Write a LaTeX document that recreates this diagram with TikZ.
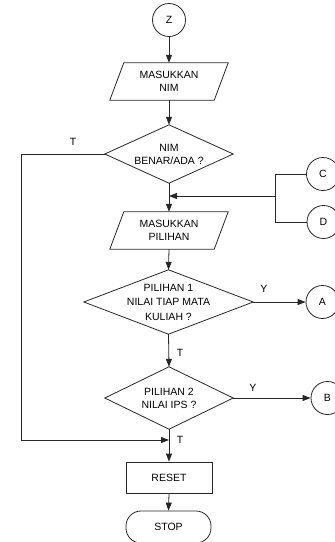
\documentclass[tikz,border=0pt]{standalone}
\usepackage{fontspec}
\setmainfont{Liberation Sans}
\usetikzlibrary{arrows.meta}
\begin{document}
\begin{tikzpicture}[x=1pt,y=-1pt,
  every node/.style={font=\fontsize{10.5}{13}\selectfont, align=center, inner sep=0pt},
  line/.style={line width=0.8pt, draw=black!85},
  arr/.style={line, -{Triangle[length=8pt,width=6pt]}},
  conn/.style={circle, draw=black!85, line width=0.8pt, minimum size=33pt},
  iobox/.style={minimum width=104pt, minimum height=37pt},
  dtext/.style={minimum width=128pt, minimum height=58pt},
  procbox/.style={rectangle, draw=black!85, line width=0.8pt, minimum width=86pt, minimum height=31pt},
  termbox/.style={rectangle, rounded corners=15pt, draw=black!85, line width=0.8pt, minimum width=85pt, minimum height=32pt},
  lbl/.style={font=\fontsize{10.5}{13}\selectfont}
]
\useasboundingbox (0,0) rectangle (335,542);

% connectors
\node[conn] (Z) at (169,20) {Z};
\node[conn] (C) at (323,174) {C};
\node[conn] (D) at (323.5,222) {D};
\node[conn] (A) at (322.5,302) {A};
\node[conn] (B) at (327.5,398) {B};

% input 1
\node[iobox] (in1) at (169,81.5) {MASUKKAN\\NIM};
\draw[line] ([xshift=7pt]in1.north west) -- ([xshift=7pt]in1.north east) -- ([xshift=-7pt]in1.south east) -- ([xshift=-7pt]in1.south west) -- cycle;

% decision 1
\node[dtext] (d1) at (169,154) {NIM\\BENAR/ADA ?};
\draw[line] (d1.north) -- (d1.east) -- (d1.south) -- (d1.west) -- cycle;

% input 2
\node[iobox] (in2) at (169,230.5) {MASUKKAN\\PILIHAN};
\draw[line] ([xshift=7pt]in2.north west) -- ([xshift=7pt]in2.north east) -- ([xshift=-7pt]in2.south east) -- ([xshift=-7pt]in2.south west) -- cycle;

% decision 2
\node[dtext, minimum width=169pt, minimum height=64pt, font=\fontsize{10.5}{14.5}\selectfont] (d2) at (168.5,302) {PILIHAN 1\\NILAI TIAP MATA\\KULIAH ?};
\draw[line] (d2.north) -- (d2.east) -- (d2.south) -- (d2.west) -- cycle;

% decision 3
\node[dtext, minimum height=62pt] (d3) at (169,398) {PILIHAN 2\\NILAI IPS ?};
\draw[line] (d3.north) -- (d3.east) -- (d3.south) -- (d3.west) -- cycle;

% reset and stop
\node[procbox] (reset) at (169,477.5) {RESET};
\node[termbox] (stop) at (168.5,527) {STOP};

% junction coordinates
\coordinate (jc) at (275,174);
\coordinate (jd) at (275,222);
\coordinate (jm) at (275,196);
\coordinate (jin) at (169,196);
\coordinate (lt) at (21,154);
\coordinate (lb) at (21,440);
\coordinate (lend) at (169,440);

% flow
\draw[arr] (Z) -- (in1.north);
\draw[arr] (in1.south) -- (d1.north);
\draw[arr] (d1.south) -- (in2.north);
\draw[line] (C.west) -- (jc) -- (jd) -- (D.west);
\draw[arr] (jm) -- (jin);
\draw[arr] (in2.south) -- (d2.north);
\draw[arr] (d2.east) -- (A.west);
\draw[arr] (d2.south) -- (d3.north);
\draw[arr] (d3.east) -- (B.west);
\draw[arr] (d3.south) -- (reset.north);
\draw[arr] (reset.south) -- (stop.north);
\draw[arr] (d1.west) -- (lt) -- (lb) -- (lend);

% labels
\node[lbl] (t1) at (73,142) {T};
\node[lbl] (y1) at (264,289) {Y};
\node[lbl] (t2) at (180,353) {T};
\node[lbl] (y2) at (253,388) {Y};
\node[lbl] (t3) at (180,440) {T};
\end{tikzpicture}
\end{document}
